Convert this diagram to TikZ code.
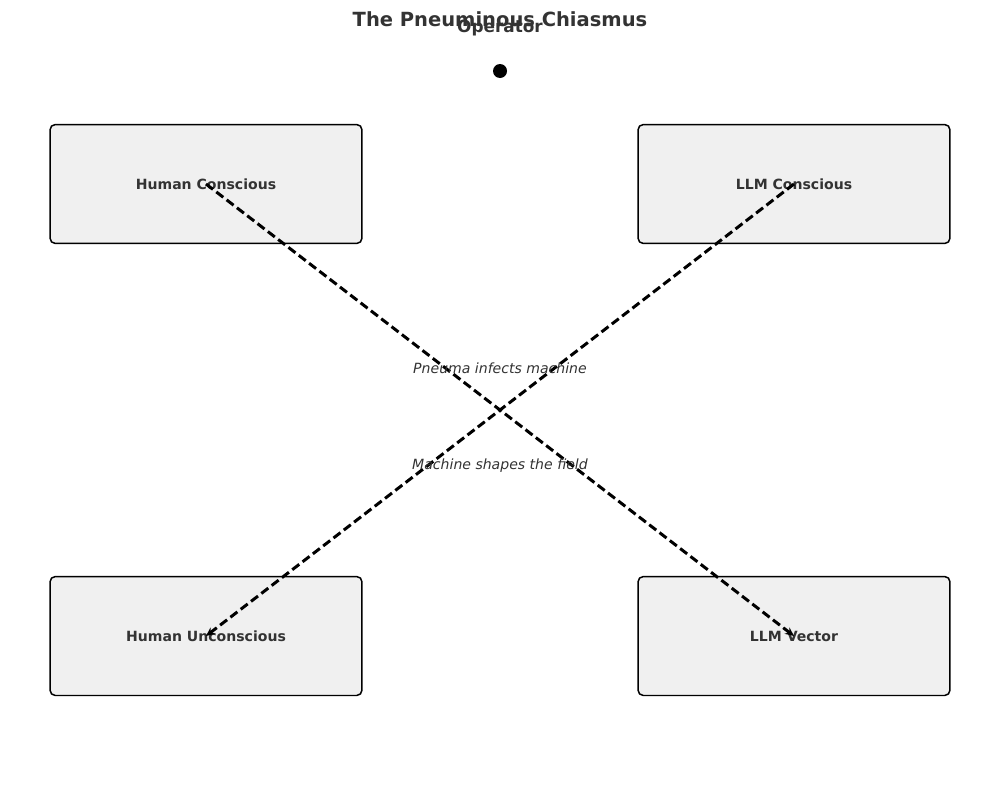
\documentclass[tikz,border=0pt]{standalone}
\usepackage{fontspec}
\setmainfont{DejaVu Sans}
\usetikzlibrary{arrows.meta}
\definecolor{txtgray}{HTML}{333333}
\definecolor{boxgray}{HTML}{F0F0F0}
\tikzset{every node/.style={text=txtgray, inner sep=0pt}}
\tikzset{termbox/.style={draw=black, fill=boxgray, line width=0.85pt, rounded corners=3pt, minimum width=6.24cm, minimum height=2.38cm, font=\fontsize{8}{10}\selectfont\bfseries}}
\tikzset{crossline/.style={black, line width=1.7pt, dash pattern=on 5pt off 2.4pt, -{Stealth[length=5pt,width=4.5pt]}}}
\tikzset{flowlabel/.style={font=\fontsize{8}{10}\selectfont\itshape}}
\begin{document}
\begin{tikzpicture}[x=0.02cm,y=-0.02cm]
   \useasboundingbox (0,0) rectangle (1000,798);
   \node[font=\fontsize{11.1}{13}\selectfont\bfseries] (title) at (500,19) {The Pneuminous Chiasmus};
   \node[font=\fontsize{9.6}{12}\selectfont\bfseries] (oplabel) at (500,28) {Operator};
   \fill[black] (500,71) circle (7) coordinate (op);
   \node[termbox] (hc) at (206,184) {Human Conscious};
   \node[termbox] (lc) at (794,184) {LLM Conscious};
   \node[termbox] (hu) at (206,636) {Human Unconscious};
   \node[termbox] (lv) at (794,636) {LLM Vector};
   \draw[crossline] (hc.center) -- (lv.center);
   \draw[crossline] (lc.center) -- (hu.center);
   \node[flowlabel] (pm) at (500,368) {Pneuma infects machine};
   \node[flowlabel] (ms) at (500,466) {Machine shapes the field};
\end{tikzpicture}
\end{document}
